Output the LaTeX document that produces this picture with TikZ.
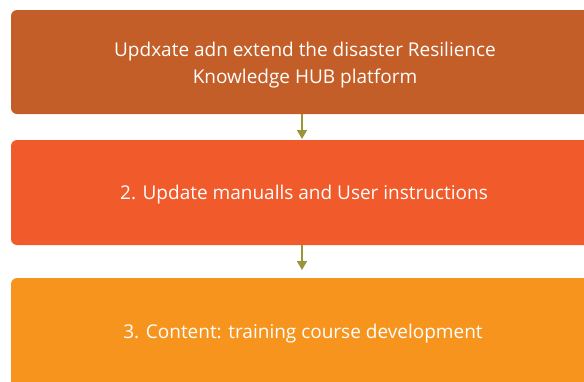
\documentclass[tikz,border=0pt]{standalone}
\usepackage{fontspec}
\setmainfont{Open Sans}
\usetikzlibrary{arrows.meta}
\definecolor{stepA}{HTML}{C45E28}
\definecolor{stepB}{HTML}{F15A2B}
\definecolor{stepC}{HTML}{F7941E}
\definecolor{olive}{HTML}{9B9438}
\begin{document}
\begin{tikzpicture}[x=1pt,y=-1pt,
  stagebox/.style={fill=#1, draw=none, rounded corners=6pt},
  stagetext/.style={text=white, align=center, anchor=base, inner sep=0pt, font=\fontsize{19}{27}\selectfont},
  flow/.style={draw=olive, line width=1.6pt, -{Triangle[width=10pt,length=9pt]}}]
\useasboundingbox (0,0) rectangle (584,381);
\clip (0,0) rectangle (584,381);
% three stage panels, running off the right and bottom edges
\fill[stagebox=stepA] (11,10) rectangle (620,114);
\fill[stagebox=stepB] (11,140) rectangle (620,245);
\fill[stagebox=stepC] (11,278) rectangle (620,400);
% stage captions (base anchor sits on the last line)
\node[stagetext] (t1) at (305,83) {Updxate adn extend the disaster Resilience\\Knowledge HUB platform};
\node[stagetext] (t2) at (304,199) {2. Update manualls and User instructions};
\node[stagetext] (t3) at (303,338) {3. Content: training course development};
% arrows between the panels
\coordinate (a1) at (302,114);
\coordinate (b1) at (302,139);
\coordinate (a2) at (302,245);
\coordinate (b2) at (302,270);
\draw[flow] (a1) -- (b1);
\draw[flow] (a2) -- (b2);
\end{tikzpicture}
\end{document}
